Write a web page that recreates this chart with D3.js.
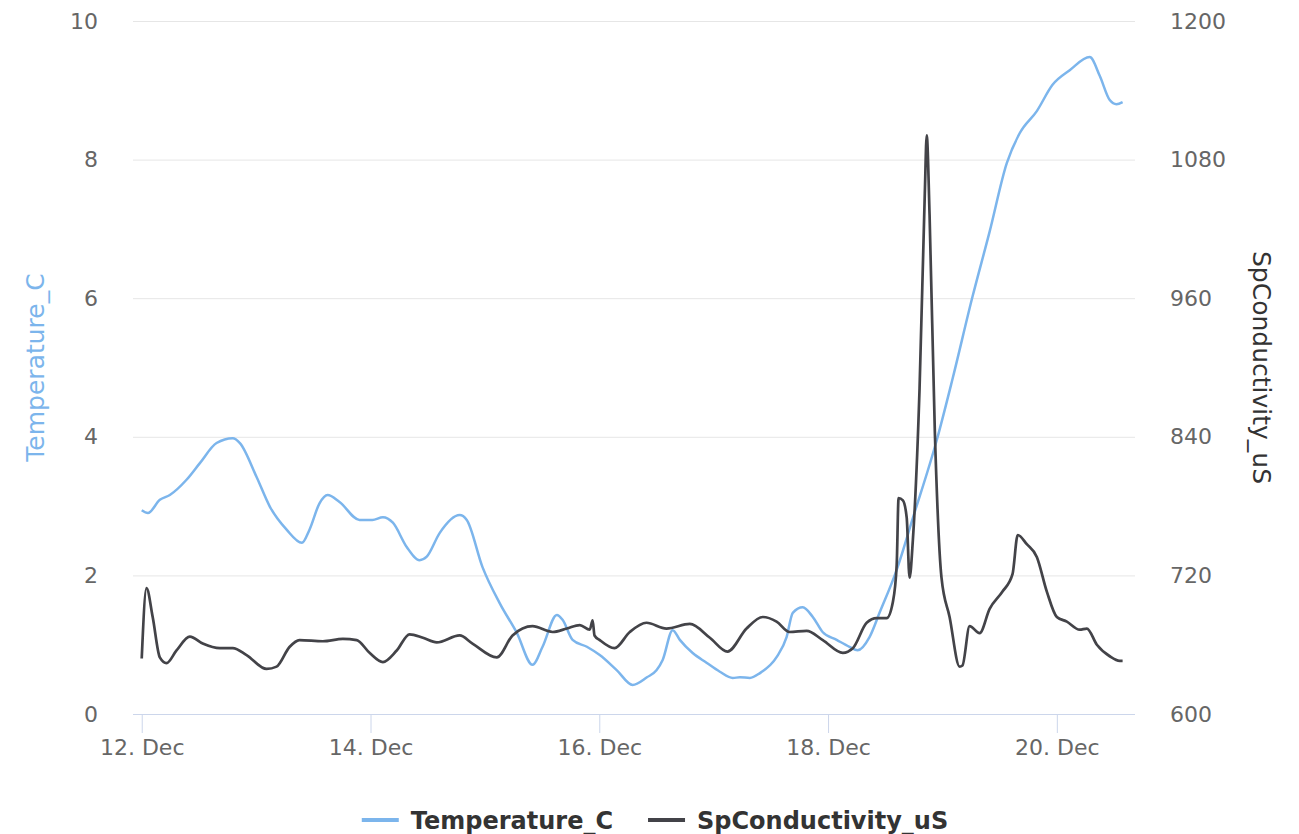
<!DOCTYPE html>
<html>
<head>
<meta charset="utf-8">
<script src="https://cdn.jsdelivr.net/npm/d3@7"></script>
<style>
  body { margin: 0; background: #fff; }
  svg { display: block; font-family: "DejaVu Sans", sans-serif; }
</style>
</head>
<body>
<svg width="1299" height="834"></svg>
<script>
// hours after 12 Dec 00:00
const tempHours = [0, 1.3, 3.8, 5.9, 9.4, 12.2, 15.7, 19.1, 20.6, 24.1, 26.9, 30.4, 33.6, 35.2, 37.3, 39.0,
  41.5, 45.7, 48.4, 50.6, 52.7, 55.6, 58.3, 59.8, 62.5, 66.7, 68.2, 71.5, 75.1, 78.7, 82.0, 84.1,
  87.1, 88.3, 90.4, 93.4, 96.1, 99.7, 103.0, 106.0, 108.0, 109.3, 111.4, 112.9, 115.6, 118.5, 121.3,
  124.0, 125.5, 127.6, 129.7, 133.2, 135.3, 136.6, 138.7, 140.8, 142.9, 145.8, 148.5, 150.2, 152.7,
  154.8, 158.4, 161.8, 166.8, 170.1, 174.3, 177.9, 181.5, 184.2, 187.8, 191.1, 194.7, 198.9, 201.0,
  203.1, 204.5, 205.8];
const tempValues = [2.94, 2.90, 3.09, 3.16, 3.38, 3.62, 3.91, 3.98, 3.91, 3.42, 2.99, 2.66, 2.47, 2.66, 3.04, 3.16,
  3.06, 2.80, 2.80, 2.84, 2.76, 2.41, 2.22, 2.27, 2.61, 2.87, 2.80, 2.12, 1.60, 1.17, 0.71, 0.97,
  1.43, 1.36, 1.07, 0.97, 0.85, 0.63, 0.42, 0.53, 0.63, 0.78, 1.21, 1.07, 0.88, 0.74, 0.61,
  0.52, 0.53, 0.52, 0.59, 0.82, 1.11, 1.46, 1.54, 1.40, 1.18, 1.07, 0.97, 0.92, 1.11,
  1.46, 2.08, 2.83, 3.95, 4.83, 6.02, 6.96, 7.95, 8.38, 8.70, 9.08, 9.29, 9.48, 9.21,
  8.86, 8.80, 8.83];

const condHours = [0, 1.0, 2.3, 3.8, 5.2, 7.3, 10.1, 12.8, 16.4, 19.1, 22.0, 26.2, 28.3, 31.0, 33.1, 38.0,
  42.2, 45.1, 47.8, 50.6, 53.5, 56.2, 59.0, 61.9, 66.7, 69.4, 74.5, 77.8, 82.0, 86.2, 89.2, 91.9,
  94.0, 94.6, 95.0, 96.1, 99.2, 102.4, 105.9, 110.1, 115.0, 119.2, 122.9, 126.9, 130.3, 133.2, 135.9,
  139.5, 142.9, 147.1, 149.2, 152.1, 154.2, 156.3, 157.6, 158.4, 158.8, 159.7, 160.5, 161.1, 161.8,
  163.2, 164.3, 164.7, 165.3, 166.4, 167.8, 169.5, 171.6, 172.2, 173.7, 175.8, 177.9, 180.6, 182.7,
  183.8, 185.7, 187.8, 189.9, 192.0, 194.1, 196.8, 198.3, 200.4, 203.1, 205.2, 205.8];
const condValues = [648, 709, 684, 649, 644, 655, 667, 661, 657, 657, 651, 639, 641, 658, 664, 663,
  665, 664, 653, 645, 655, 669, 666, 662, 668, 661, 649, 668, 676, 671, 674, 677,
  673, 681, 668, 664, 657, 671, 679, 674, 678, 666, 654, 674, 684, 680, 671,
  672, 664, 653, 657, 679, 683, 683, 697, 729, 787, 785, 770, 718, 751,
  882, 1051, 1101, 1032, 845, 718, 684, 641, 642, 676, 670, 691, 706, 721,
  755, 747, 736, 706, 684, 680, 673, 674, 660, 650, 646, 646];

const tickDays = [12, 14, 16, 18, 20];
const tempTicks = [0, 2, 4, 6, 8, 10];
const condTicks = [600, 720, 840, 960, 1080, 1200];
const seriesNames = ["Temperature_C", "SpConductivity_uS"];
const seriesColors = ["#7cb5ec", "#434348"];

const svg = d3.select("svg");
const margin = { left: 133, right: 164, top: 21, bottom: 120 };
const width = +svg.attr("width") - margin.left - margin.right;
const height = +svg.attr("height") - margin.top - margin.bottom;

const base = Date.UTC(2016, 11, 12);
const hour = 3600 * 1000;
const toDate = h => new Date(base + h * hour);

const tempData = tempHours.map((h, i) => ({ date: toDate(h), value: tempValues[i] }));
const condData = condHours.map((h, i) => ({ date: toDate(h), value: condValues[i] }));

const x = d3.scaleUtc()
  .domain([toDate(-1.83), toDate(208.4)])
  .range([0, width]);
const yTemp = d3.scaleLinear().domain([0, 10]).range([height, 0]);
const yCond = d3.scaleLinear().domain([600, 1200]).range([height, 0]);

const g = svg.append("g").attr("transform", `translate(${margin.left},${margin.top})`);

// grid
g.append("g")
  .call(d3.axisLeft(yTemp).tickValues(tempTicks.slice(1)).tickSize(-width).tickFormat(""))
  .call(a => a.select(".domain").remove())
  .selectAll("line").attr("stroke", "#e6e6e6").attr("stroke-width", 1);

// x axis
const fmt = d3.utcFormat("%-d. %b");
g.append("g")
  .attr("transform", `translate(0,${height})`)
  .call(d3.axisBottom(x)
    .tickValues(tickDays.map(d => new Date(Date.UTC(2016, 11, d))))
    .tickFormat(fmt).tickSize(19).tickPadding(6))
  .call(a => a.select(".domain").attr("stroke", "#ccd6eb").attr("d", `M0,0.5H${width}`))
  .call(a => a.selectAll("line").attr("stroke", "#ccd6eb"))
  .call(a => a.selectAll("text").attr("fill", "#666").attr("font-size", "22px")
    .attr("font-family", "DejaVu Sans, sans-serif"));

// left axis
g.append("g")
  .call(d3.axisLeft(yTemp).tickValues(tempTicks).tickSize(0).tickPadding(35))
  .call(a => a.select(".domain").remove())
  .call(a => a.selectAll("text").attr("fill", "#666").attr("font-size", "22px")
    .attr("font-family", "DejaVu Sans, sans-serif"));

// right axis
g.append("g")
  .attr("transform", `translate(${width},0)`)
  .call(d3.axisRight(yCond).tickValues(condTicks).tickFormat(d3.format("d")).tickSize(0).tickPadding(35))
  .call(a => a.select(".domain").remove())
  .call(a => a.selectAll("text").attr("fill", "#666").attr("font-size", "22px")
    .attr("font-family", "DejaVu Sans, sans-serif"));

// axis titles
svg.append("text")
  .attr("transform", `translate(44,${margin.top + height / 2}) rotate(-90)`)
  .attr("text-anchor", "middle")
  .attr("fill", seriesColors[0])
  .attr("font-size", "25px")
  .text(seriesNames[0]);

svg.append("text")
  .attr("transform", `translate(1253,${margin.top + height / 2}) rotate(90)`)
  .attr("text-anchor", "middle")
  .attr("fill", "#333")
  .attr("font-size", "25px")
  .text(seriesNames[1]);

// lines
const tempLine = d3.line().x(d => x(d.date)).y(d => yTemp(d.value)).curve(d3.curveMonotoneX);
const condLine = d3.line().x(d => x(d.date)).y(d => yCond(d.value)).curve(d3.curveMonotoneX);

g.append("path")
  .datum(tempData)
  .attr("fill", "none")
  .attr("stroke", seriesColors[0])
  .attr("stroke-width", 2.5)
  .attr("stroke-linejoin", "round")
  .attr("d", tempLine);

g.append("path")
  .datum(condData)
  .attr("fill", "none")
  .attr("stroke", seriesColors[1])
  .attr("stroke-width", 2.7)
  .attr("stroke-linejoin", "round")
  .attr("d", condLine);

// legend
const legend = svg.append("g");
let lx = 0;
seriesNames.forEach((name, i) => {
  const item = legend.append("g").attr("transform", `translate(${lx},0)`);
  item.append("line")
    .attr("x1", 0).attr("x2", 37).attr("y1", 0).attr("y2", 0)
    .attr("stroke", seriesColors[i]).attr("stroke-width", 4);
  const t = item.append("text")
    .attr("x", 49).attr("y", 9)
    .attr("font-size", "24px").attr("font-weight", "bold").attr("fill", "#333")
    .text(name);
  lx += 49 + t.node().getComputedTextLength() + 35;
});
const legendWidth = lx - 35;
legend.attr("transform", `translate(${655 - legendWidth / 2},820)`);
</script>
</body>
</html>
